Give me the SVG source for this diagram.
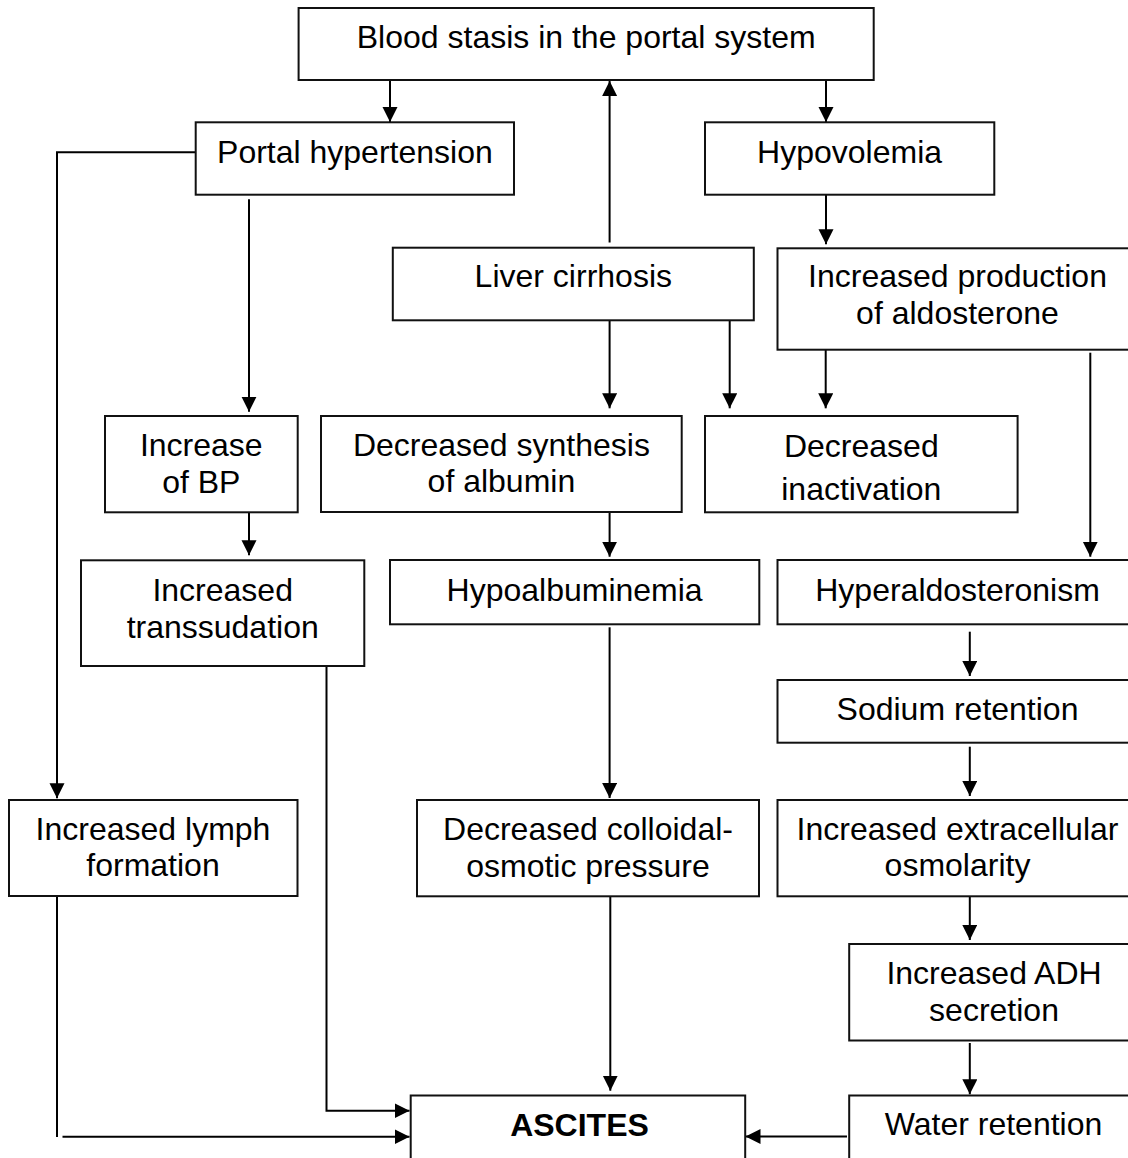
<svg xmlns="http://www.w3.org/2000/svg" width="1128" height="1158" viewBox="0 0 1128 1158">
<defs>
<marker id="ah" markerUnits="userSpaceOnUse" markerWidth="16" markerHeight="16" refX="15" refY="7.5" orient="auto">
<path d="M0,0 L15,7.5 L0,15 z" fill="#000"/>
</marker>
<style>
.box{fill:#fff;stroke:#111;stroke-width:2}
.t{font-family:"Liberation Sans",Arial,sans-serif;font-size:32px;fill:#000;text-anchor:middle}
.b{font-weight:bold}
.c{fill:none;stroke:#000;stroke-width:2}
.a{fill:none;stroke:#000;stroke-width:2;marker-end:url(#ah)}
</style>
</defs>
<rect width="1128" height="1158" fill="#fff"/>

<g id="connectors">
<line class="a" x1="390" y1="80" x2="390" y2="122"/>
<line class="a" x1="826" y1="80" x2="826" y2="122"/>
<line class="a" x1="609.6" y1="242.5" x2="609.6" y2="81"/>
<line class="a" x1="826" y1="194.7" x2="826" y2="244.3"/>
<polyline class="a" points="202,152.3 57,152.3 57,798.3"/>
<line class="a" x1="249" y1="199.3" x2="249" y2="411.7"/>
<line class="a" x1="609.6" y1="320.3" x2="609.6" y2="408.3"/>
<line class="a" x1="729.7" y1="320.3" x2="729.7" y2="408.3"/>
<line class="a" x1="825.7" y1="349.7" x2="825.7" y2="408.3"/>
<line class="a" x1="1090.3" y1="352.7" x2="1090.3" y2="556.7"/>
<line class="a" x1="249" y1="512.3" x2="249" y2="555.3"/>
<line class="a" x1="609.6" y1="512" x2="609.6" y2="556.7"/>
<line class="a" x1="969.8" y1="631.7" x2="969.8" y2="676"/>
<line class="a" x1="969.8" y1="746.7" x2="969.8" y2="796"/>
<line class="a" x1="609.6" y1="627.3" x2="609.6" y2="798"/>
<line class="a" x1="969.8" y1="896.3" x2="969.8" y2="940"/>
<line class="a" x1="969.8" y1="1043" x2="969.8" y2="1094.3"/>
<line class="a" x1="610.3" y1="896.3" x2="610.3" y2="1090.7"/>
<polyline class="a" points="326.5,663 326.5,1110.7 409.5,1110.7"/>
<line class="c" x1="57" y1="896" x2="57" y2="1137"/>
<line class="a" x1="62.5" y1="1136.7" x2="409.5" y2="1136.7"/>
<line class="a" x1="847" y1="1136.5" x2="745.5" y2="1136.5"/>
</g>

<g id="blood-stasis">
<rect class="box" x="298.6" y="8" width="575.1" height="72"/>
<text class="t" x="586.2" y="48.3">Blood stasis in the portal system</text>
</g>
<g id="portal-hypertension">
<rect class="box" x="195.7" y="122.3" width="318.3" height="72.4"/>
<text class="t" x="354.9" y="163">Portal hypertension</text>
</g>
<g id="hypovolemia">
<rect class="box" x="705" y="122.3" width="289.3" height="72.4"/>
<text class="t" x="849.6" y="162.5">Hypovolemia</text>
</g>
<g id="liver-cirrhosis">
<rect class="box" x="392.8" y="247.7" width="361" height="72.6"/>
<text class="t" x="573.3" y="287">Liver cirrhosis</text>
</g>
<g id="aldosterone-production">
<rect class="box" x="777.5" y="248.3" width="360" height="101.4"/>
<text class="t" x="957.5" y="287">Increased production</text>
<text class="t" x="957.5" y="323.5">of aldosterone</text>
</g>
<g id="increase-bp">
<rect class="box" x="105" y="416" width="192.7" height="96.3"/>
<text class="t" x="201.3" y="456">Increase</text>
<text class="t" x="201.3" y="492.5">of BP</text>
</g>
<g id="decreased-synthesis">
<rect class="box" x="321" y="416" width="360.7" height="96"/>
<text class="t" x="501.4" y="455.5">Decreased synthesis</text>
<text class="t" x="501.4" y="492">of albumin</text>
</g>
<g id="decreased-inactivation">
<rect class="box" x="705" y="416" width="312.6" height="96.3"/>
<text class="t" x="861.3" y="456.5">Decreased</text>
<text class="t" x="861.3" y="499.5">inactivation</text>
</g>
<g id="increased-transsudation">
<rect class="box" x="81" y="560.3" width="283.3" height="105.7"/>
<text class="t" x="222.7" y="600.5">Increased</text>
<text class="t" x="222.7" y="637.5">transsudation</text>
</g>
<g id="hypoalbuminemia">
<rect class="box" x="390" y="560" width="369.3" height="64.3"/>
<text class="t" x="574.6" y="601">Hypoalbuminemia</text>
</g>
<g id="hyperaldosteronism">
<rect class="box" x="777.5" y="560" width="360" height="64.3"/>
<text class="t" x="957.5" y="601">Hyperaldosteronism</text>
</g>
<g id="sodium-retention">
<rect class="box" x="777.5" y="680" width="360" height="62.7"/>
<text class="t" x="957.5" y="720">Sodium retention</text>
</g>
<g id="increased-lymph">
<rect class="box" x="9" y="800" width="288.5" height="96"/>
<text class="t" x="153" y="840">Increased lymph</text>
<text class="t" x="153" y="876">formation</text>
</g>
<g id="decreased-colloidal">
<rect class="box" x="417" y="800" width="342" height="96.3"/>
<text class="t" x="588" y="840">Decreased colloidal-</text>
<text class="t" x="588" y="876.5">osmotic pressure</text>
</g>
<g id="extracellular-osmolarity">
<rect class="box" x="777.5" y="800" width="360" height="96.3"/>
<text class="t" x="957.5" y="840">Increased extracellular</text>
<text class="t" x="957.5" y="876">osmolarity</text>
</g>
<g id="adh-secretion">
<rect class="box" x="849.2" y="944" width="290" height="96.5"/>
<text class="t" x="994" y="984">Increased ADH</text>
<text class="t" x="994" y="1021">secretion</text>
</g>
<g id="ascites">
<rect class="box" x="410.7" y="1095.5" width="334.5" height="80"/>
<text class="t b" x="579.5" y="1136">ASCITES</text>
</g>
<g id="water-retention">
<rect class="box" x="849.2" y="1095.5" width="290" height="80"/>
<text class="t" x="993.5" y="1134.5">Water retention</text>
</g>
</svg>
